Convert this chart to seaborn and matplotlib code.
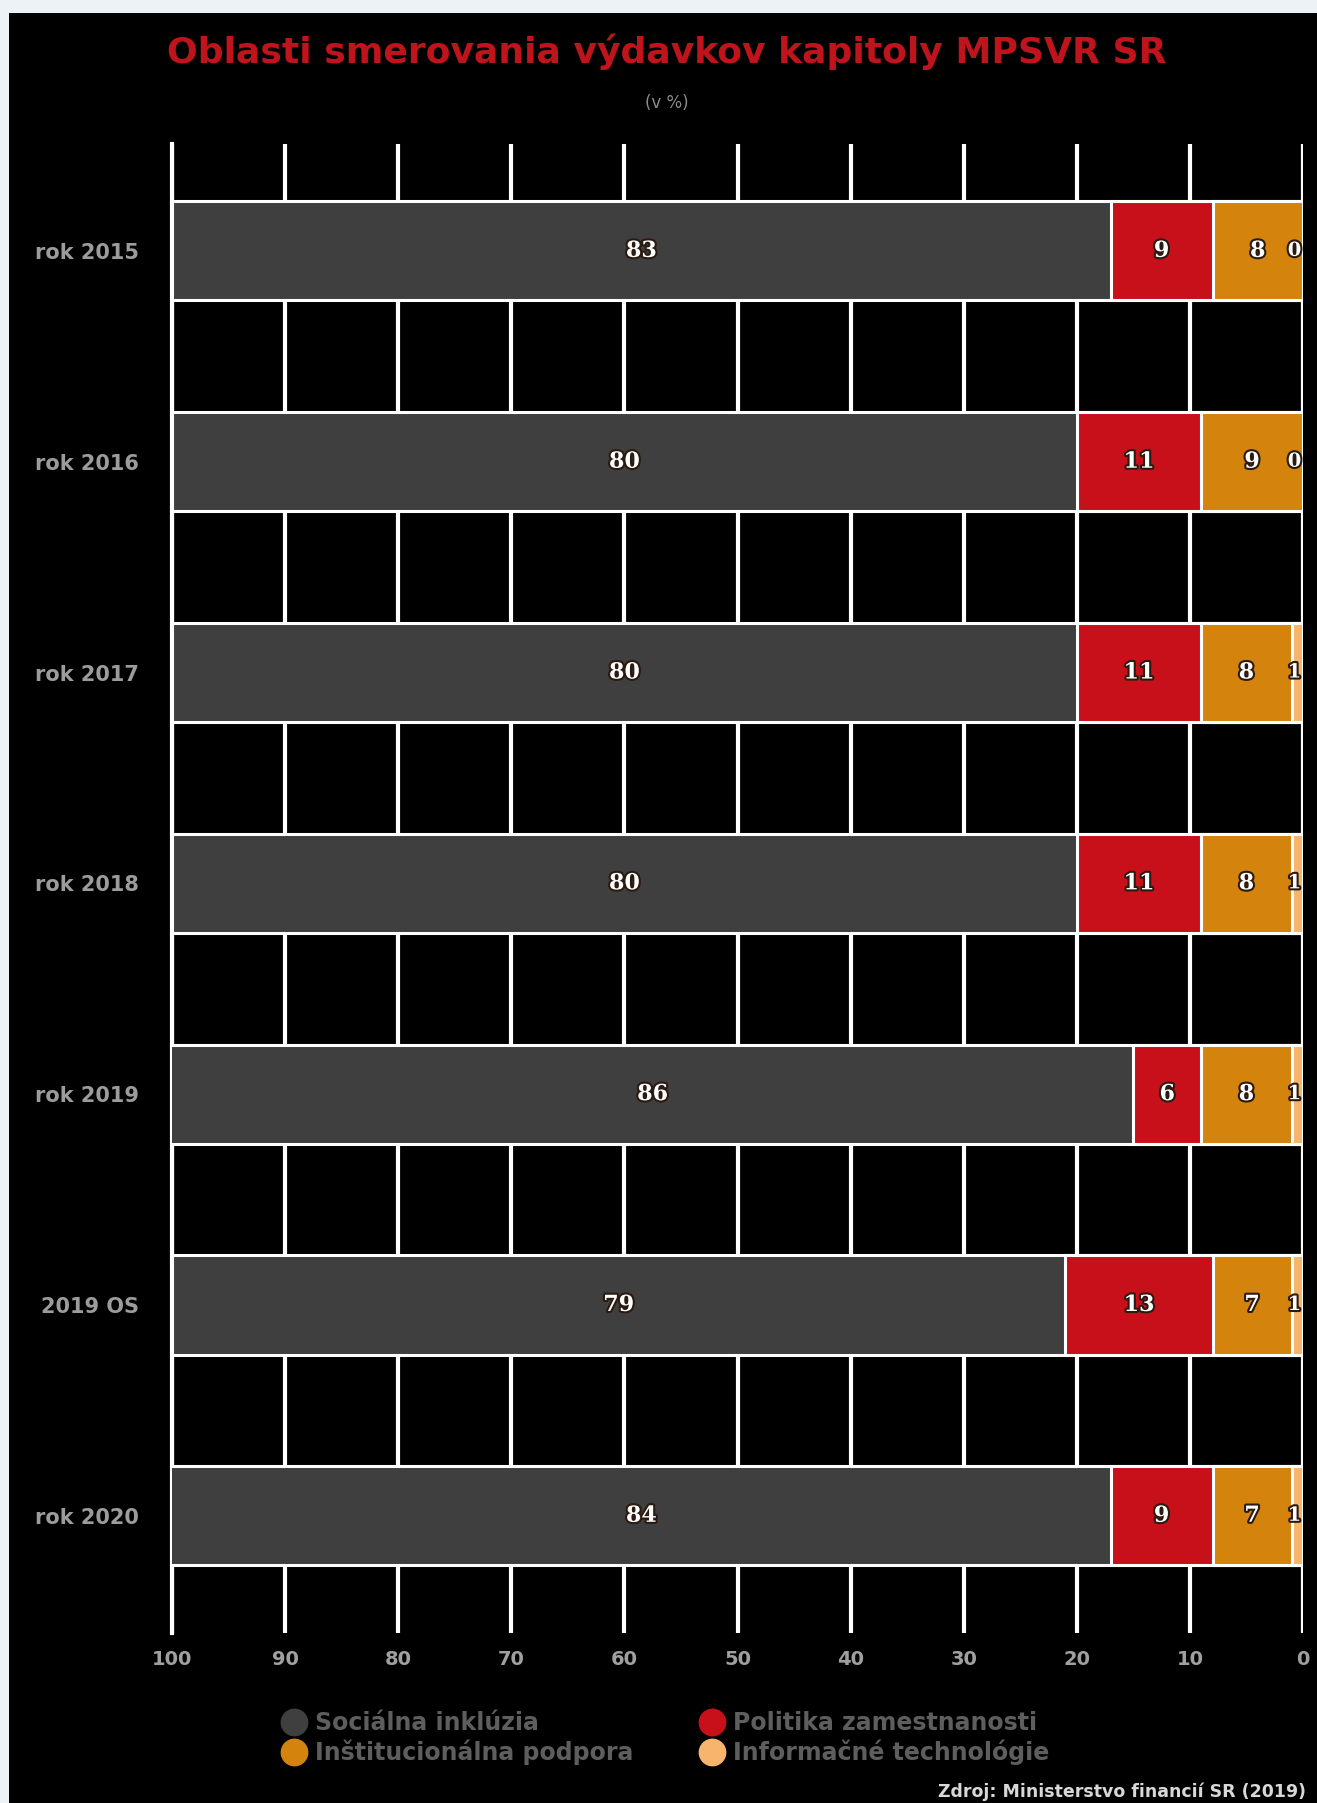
import numpy as np
import pandas as pd
import matplotlib
matplotlib.use("Agg")
import matplotlib.pyplot as plt
import matplotlib.patheffects as pe
from matplotlib.lines import Line2D
from matplotlib.patches import Rectangle
import seaborn as sns

categories = ["rok 2015", "rok 2016", "rok 2017", "rok 2018", "rok 2019", "2019 OS", "rok 2020"]
socialna = [83, 80, 80, 80, 86, 79, 84]
politika = [9, 11, 11, 11, 6, 13, 9]
institucionalna = [8, 9, 8, 8, 8, 7, 7]
informacne = [0, 0, 1, 1, 1, 1, 1]
series_names = ["Sociálna inklúzia", "Politika zamestnanosti", "Inštitucionálna podpora", "Informačné technológie"]
colors = ["#3f3f3f", "#c8101a", "#d4830c", "#f7b46c"]
xticks = [0, 10, 20, 30, 40, 50, 60, 70, 80, 90, 100]

sns.set_theme(style="white")
plt.rcParams['font.family'] = ['DejaVu Sans']

W, H = 1317, 1803
fig = plt.figure(figsize=(W / 100, H / 100), dpi=100, facecolor="#edf2f7")
fig.patches.append(Rectangle((9 / W, 0), 1 - 9 / W, 1 - 13 / H, transform=fig.transFigure,
                             facecolor="black", edgecolor="none", zorder=-10))

ax = fig.add_axes([172 / W, 1 - 1633 / H, (1303 - 172) / W, (1633 - 144) / H])
ax.set_zorder(2)
ax.set_facecolor("black")

df = pd.DataFrame({"cat": categories, "s": socialna, "p": politika, "i": institucionalna, "t": informacne})
# cumulative sums from the right (0) towards the left (100)
df["c1"] = df["t"]
df["c2"] = df["t"] + df["i"]
df["c3"] = df["c2"] + df["p"]
df["c4"] = df["c3"] + df["s"]

for col, color in zip(["c4", "c3", "c2", "c1"], colors):
    sns.barplot(data=df, y="cat", x=col, orient="h", color=color, width=0.47,
                edgecolor="white", linewidth=2.2, saturation=1, ax=ax, zorder=3)

ax.set_xlim(100, 0)
ax.set_ylim(6.556, -0.507)
ax.set_xticks(xticks)
ax.set_xticklabels([str(v) for v in xticks], color="#a0a0a0", fontsize=14, fontweight="bold")
ax.tick_params(axis="x", length=0, pad=12)
ax.tick_params(axis="y", length=0, pad=24, labelcolor="#9c9c9c", labelsize=15)
for t in ax.get_yticklabels():
    t.set_fontweight("bold")
ax.set_xlabel("")
ax.set_ylabel("")
ax.grid(axis="x", color="white", linewidth=3, zorder=0)
ax.set_axisbelow(True)
for s in ["top", "bottom", "right"]:
    ax.spines[s].set_visible(False)
ax.spines["left"].set_color("white")
ax.spines["left"].set_linewidth(3)

stroke = [pe.withStroke(linewidth=3, foreground="#2a1a10")]
for yi in range(len(categories)):
    row = df.iloc[yi]
    segs = [(row["c3"], min(row["c4"], 100), row["s"]),
            (row["c2"], row["c3"], row["p"]),
            (row["c1"], row["c2"], row["i"])]
    for lo, hi, val in segs:
        ax.text((lo + hi) / 2, yi, f"{val}", ha="center", va="center", color="white",
                fontsize=16, fontweight="bold", family="DejaVu Serif", path_effects=stroke, zorder=5)
    ax.text(max(row["c1"] / 2, 0.75), yi, f"{row['t']}", ha="center", va="center", color="white",
            fontsize=14, fontweight="bold", family="DejaVu Serif", path_effects=stroke, zorder=5)

fig.text(667 / W, 1 - 52 / H, "Oblasti smerovania výdavkov kapitoly MPSVR SR", ha="center", va="center",
         color="#c0141c", fontsize=26, fontweight="bold")
fig.text(667 / W, 1 - 103 / H, "(v %)", ha="center", va="center", color="#8c8c8c", fontsize=12)

order = [0, 2, 1, 3]
handles = [Line2D([], [], marker="o", linestyle="none", markersize=19, markerfacecolor=colors[k],
                  markeredgecolor=colors[k]) for k in order]
labels = [series_names[k] for k in order]
leg = fig.legend(handles, labels, ncol=2, loc="center left", bbox_to_anchor=(268 / W, 1 - 1738 / H),
                 frameon=False, fontsize=17, handletextpad=0.3, columnspacing=2.7,
                 labelspacing=0.2, borderpad=0, handlelength=1.2)
for t in leg.get_texts():
    t.set_color("#5e5e5e")
    t.set_fontweight("bold")

fig.text(1306 / W, 1 - 1792 / H, "Zdroj: Ministerstvo financií SR (2019)", ha="right", va="center",
         color="#d8d8d8", fontsize=12.5, fontweight="bold")

fig.savefig("out.png", dpi=100, facecolor=fig.get_facecolor())
